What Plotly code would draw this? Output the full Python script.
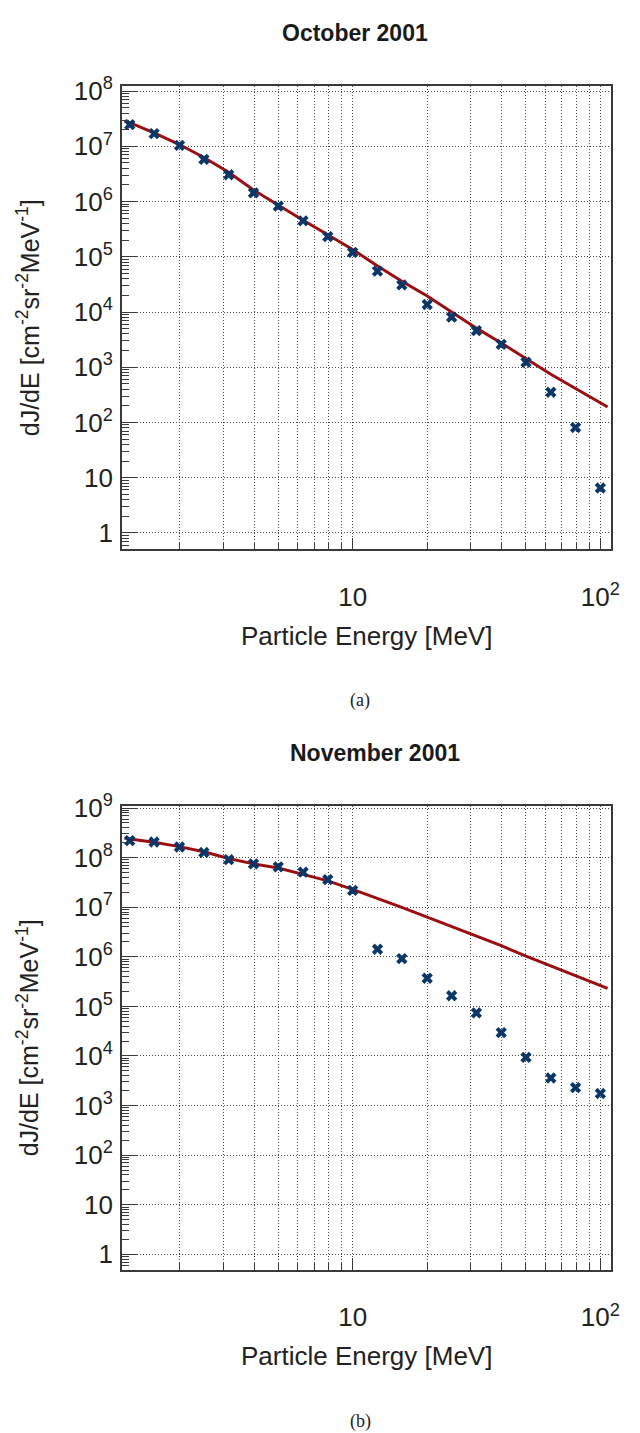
import plotly.graph_objects as go

# ---------------- data ----------------
energy = [1.26, 1.58, 2.0, 2.51, 3.16, 3.98, 5.01, 6.31, 7.94, 10.0,
          12.6, 15.8, 20.0, 25.1, 31.6, 39.8, 50.1, 63.1, 79.4, 100.0]

oct_flux = [2.47e7, 1.70e7, 1.04e7, 5.8e6, 3.06e6, 1.44e6, 8.3e5, 4.49e5, 2.32e5, 1.20e5,
            5.5e4, 3.09e4, 1.37e4, 8.1e3, 4.6e3, 2.6e3, 1.23e3, 352, 81, 6.5]

nov_flux = [2.2e8, 2.07e8, 1.64e8, 1.27e8, 9.1e7, 7.5e7, 6.5e7, 5.1e7, 3.6e7, 2.19e7,
            1.42e6, 9.2e5, 3.7e5, 1.64e5, 7.4e4, 2.96e4, 9.4e3, 3.6e3, 2.3e3, 1.75e3]

fit_energy = [1.2, 1.26, 1.58, 2.0, 2.51, 3.16, 3.98, 5.01, 6.31, 7.94, 10.0,
              12.6, 15.8, 20.0, 25.1, 31.6, 39.8, 50.1, 63.1, 79.4, 100.0, 107.0]

oct_fit = [2.9e7, 2.7e7, 1.75e7, 1.08e7, 6.3e6, 3.4e6, 1.62e6, 8.5e5, 4.6e5, 2.5e5, 1.36e5,
           6.8e4, 3.6e4, 1.95e4, 1.0e4, 5.1e3, 2.75e3, 1.44e3, 747, 413, 228, 190]

nov_fit = [2.5e8, 2.38e8, 2.04e8, 1.67e8, 1.31e8, 9.6e7, 7.5e7, 6.2e7, 4.6e7, 3.4e7, 2.29e7,
           1.51e7, 9.9e6, 6.3e6, 4.1e6, 2.6e6, 1.68e6, 1.03e6, 6.5e5, 4.1e5, 2.68e5, 2.3e5]

titles = ["October 2001", "November 2001"]
panel_labels = ["(a)", "(b)"]
x_title = "Particle Energy [MeV]"
y_title = "dJ/dE [cm<sup>-2</sup>sr<sup>-2</sup>MeV<sup>-1</sup>]"

x_tickvals = [10, 100]
x_ticktext = ["10", "10<sup>2</sup>"]
y_tickvals_a = [1, 10, 1e2, 1e3, 1e4, 1e5, 1e6, 1e7, 1e8]
y_ticktext_a = ["1", "10", "10<sup>2</sup>", "10<sup>3</sup>", "10<sup>4</sup>",
                "10<sup>5</sup>", "10<sup>6</sup>", "10<sup>7</sup>", "10<sup>8</sup>"]
y_tickvals_b = y_tickvals_a + [1e9]
y_ticktext_b = y_ticktext_a + ["10<sup>9</sup>"]

# ---------------- style ----------------
W, H = 640, 1433
MARK = "#0b3768"
LINE = "#9a0f12"
FRAME = "#3a3a3a"
GRID = "#4a4a4a"
GRID_DASH = "1px,2px"
SANS = "Liberation Sans, Arial, Helvetica, sans-serif"
SERIF = "Liberation Serif, Times New Roman, serif"

def px_x(p):
    return p / W

def px_y(p):
    return 1 - p / H

x_minor = [m * 10 ** e for e in range(0, 3) for m in range(2, 10) if m * 10 ** e < 110]

def y_minor(top):
    return [m * 10 ** e for e in range(-1, top + 1) for m in range(2, 10)]

fig = go.Figure()

fig.add_trace(go.Scatter(x=fit_energy, y=oct_fit, mode="lines",
                         line=dict(color=LINE, width=3), xaxis="x", yaxis="y"))
fig.add_trace(go.Scatter(x=energy, y=oct_flux, mode="markers",
                         marker=dict(symbol="x", size=10, color=MARK, line=dict(width=0)),
                         xaxis="x", yaxis="y"))
fig.add_trace(go.Scatter(x=fit_energy, y=nov_fit, mode="lines",
                         line=dict(color=LINE, width=3), xaxis="x2", yaxis="y2"))
fig.add_trace(go.Scatter(x=energy, y=nov_flux, mode="markers",
                         marker=dict(symbol="x", size=10, color=MARK, line=dict(width=0)),
                         xaxis="x2", yaxis="y2"))

xdom = [px_x(123.4), px_x(619)]
xrange = [0.0685, 2.044]

def xaxis_cfg(anchor):
    return dict(type="log", domain=xdom, range=xrange, anchor=anchor,
                tickmode="array", tickvals=x_tickvals, ticktext=x_ticktext,
                ticks="inside", ticklen=12, tickwidth=1.2, tickcolor=FRAME,
                ticklabelstandoff=24,
                showgrid=True, gridcolor=GRID, griddash=GRID_DASH, gridwidth=1,
                showline=True, mirror=True, linecolor=FRAME, linewidth=1.5,
                zeroline=False,
                tickfont=dict(family=SANS, size=26, color="#222"),
                minor=dict(tickmode="array", tickvals=x_minor, ticks="inside", ticklen=7,
                           tickwidth=1.2, tickcolor=FRAME, showgrid=True, gridcolor=GRID,
                           griddash=GRID_DASH, gridwidth=1))

def yaxis_cfg(anchor, dom, rng, tv, tt, top):
    return dict(type="log", domain=dom, range=rng, anchor=anchor,
                tickmode="array", tickvals=tv, ticktext=tt,
                ticks="inside", ticklen=15, tickwidth=1.2, tickcolor=FRAME,
                ticklabelstandoff=2,
                showgrid=True, gridcolor=GRID, griddash=GRID_DASH, gridwidth=1,
                showline=True, mirror=True, linecolor=FRAME, linewidth=1.5,
                zeroline=False,
                tickfont=dict(family=SANS, size=26, color="#222"),
                minor=dict(tickmode="array", tickvals=y_minor(top), ticks="inside", ticklen=7,
                           tickwidth=1.2, tickcolor=FRAME, showgrid=False))

dom_a = [px_y(539.3), px_y(70.7)]
dom_b = [px_y(1267.7), px_y(798.7)]

fig.update_layout(
    width=W, height=H,
    margin=dict(l=0, r=0, t=0, b=0),
    paper_bgcolor="white", plot_bgcolor="white",
    showlegend=False,
    xaxis=xaxis_cfg("y"),
    yaxis=yaxis_cfg("x", dom_a, [-0.297, 8.095], y_tickvals_a, y_ticktext_a, 8),
    xaxis2=xaxis_cfg("y2"),
    yaxis2=yaxis_cfg("x2", dom_b, [-0.307, 9.046], y_tickvals_b, y_ticktext_b, 9),
)

ann = []
ann.append(dict(text="<b>" + titles[0] + "</b>", x=px_x(359), y=px_y(17.5)))
ann.append(dict(text="<b>" + titles[1] + "</b>", x=px_x(380), y=px_y(745.5)))
for a in ann:
    a.update(xref="paper", yref="paper", showarrow=False, xanchor="center", yanchor="middle",
             font=dict(family=SANS, size=23, color="#1a1a1a"))

more = []
for yc, xt_y, lab_y, lab in [((70.7 + 539.3) / 2, 627, 692, panel_labels[0]),
                             ((798.7 + 1267.7) / 2, 1355, 1421, panel_labels[1])]:
    more.append(dict(text=y_title, x=px_x(28), y=px_y(yc), textangle=-90,
                     font=dict(family=SANS, size=25, color="#222")))
    more.append(dict(text=x_title, x=px_x(371), y=px_y(xt_y),
                     font=dict(family=SANS, size=26, color="#222")))
    more.append(dict(text=lab, x=px_x(365), y=px_y(lab_y),
                     font=dict(family=SERIF, size=18, color="#222")))
for a in more:
    a.update(xref="paper", yref="paper", showarrow=False, xanchor="center", yanchor="middle")

fig.update_layout(annotations=ann + more)

fig.write_html("out.html",
               config={"displayModeBar": False},
               post_script="document.body.style.margin='0px';document.body.style.padding='0px';")
